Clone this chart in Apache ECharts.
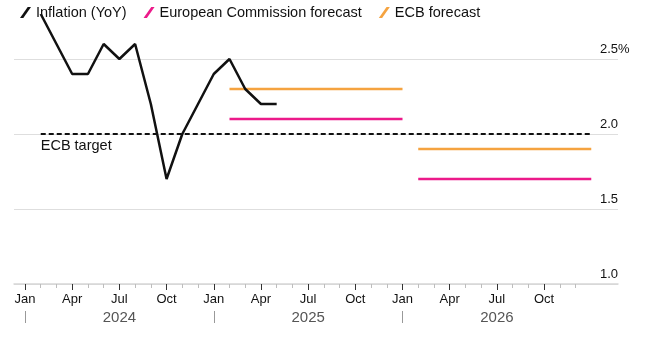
<!DOCTYPE html>
<html>
<head>
<meta charset="utf-8">
<script src="https://cdn.jsdelivr.net/npm/echarts@6/dist/echarts.min.js"></script>
<style>
html,body{margin:0;padding:0;background:#fff;}
#chart{width:653px;height:337px;}
</style>
</head>
<body>
<div id="chart"></div>
<script>
// ---- data ----
const inflationMonths = ['2024-01','2024-02','2024-03','2024-04','2024-05','2024-06','2024-07','2024-08','2024-09','2024-10','2024-11','2024-12','2025-01','2025-02','2025-03','2025-04'];
const inflationValues = [2.8,2.6,2.4,2.4,2.6,2.5,2.6,2.2,1.7,2.0,2.2,2.4,2.5,2.3,2.2,2.2];
const forecastYears = [2025, 2026];
const ecForecast = [2.1, 1.7];
const ecbForecast = [2.3, 1.9];
const targetValue = 2.0;
const targetFrom = '2024-01', targetTo = '2026-12';
const quarterLabels = ['Jan','Apr','Jul','Oct'];
const yearLabels = ['2024','2025','2026'];
const yTicks = [1.0, 1.5, 2.0, 2.5];

const FONT = "'Liberation Sans', Arial, sans-serif";
const BASE_YEAR = 2024;
// month index at end of a given month (0 = start of Jan 2024)
function monthEnd(ym){ const [y,m]=ym.split('-').map(Number); return (y-BASE_YEAR)*12 + (m-1) + 1; }

const inflationData = inflationMonths.map((m,i)=>[monthEnd(m), inflationValues[i]]);
function segs(vals){ return forecastYears.map((y,i)=>[[monthEnd(y+'-01'), vals[i]],[monthEnd(y+'-12'), vals[i]]]); }
const ecSegs = segs(ecForecast), ecbSegs = segs(ecbForecast);

// month categories for the tick axes
const tickMonths = [];
yearLabels.forEach(y=>{ for(let m=1;m<=12;m++) tickMonths.push(y+'-'+String(m).padStart(2,'0')); });

const PINK = '#ec1a8a', ORANGE = '#f5a340', BLACK = '#111111';
const slash = 'path://M0,10 L7,0 L10,0 L3,10 Z';

const series = [
  { name:'Inflation (YoY)', type:'line', xAxisIndex:0, yAxisIndex:0, data: inflationData, symbol:'none',
    lineStyle:{color:BLACK, width:2.5}, itemStyle:{color:BLACK}, z:5 },
  { name:'ECB target', type:'line', xAxisIndex:0, yAxisIndex:0, data: [], symbol:'none', z:4,
    markLine:{ silent:true, symbol:['none','none'], animation:false,
      lineStyle:{color:BLACK, width:2, type:[5,3]},
      label:{show:true, position:'insideStartBottom', formatter:'ECB target', color:BLACK, fontSize:14.5, fontFamily:FONT, distance:[0,4]},
      emphasis:{disabled:true},
      data:[[{coord:[monthEnd(targetFrom), targetValue]},{coord:[monthEnd(targetTo), targetValue]}]] } }
];
ecSegs.forEach(s=>series.push({ name:'European Commission forecast', type:'line', xAxisIndex:0, yAxisIndex:0, data:s, symbol:'none',
  lineStyle:{color:PINK, width:2.5}, itemStyle:{color:PINK}, z:3 }));
ecbSegs.forEach(s=>series.push({ name:'ECB forecast', type:'line', xAxisIndex:0, yAxisIndex:0, data:s, symbol:'none',
  lineStyle:{color:ORANGE, width:2.5}, itemStyle:{color:ORANGE}, z:3 }));

const chart = echarts.init(document.getElementById('chart'), null, {renderer:'canvas'});
chart.setOption({
  animation:false,
  textStyle:{fontFamily:FONT},
  legend:{
    left:15, top:0, itemWidth:11, itemHeight:11, itemGap:17, icon:slash,
    textStyle:{fontSize:14.5, color:BLACK, fontFamily:FONT},
    data:[
      {name:'Inflation (YoY)', itemStyle:{color:BLACK}},
      {name:'European Commission forecast', itemStyle:{color:PINK}},
      {name:'ECB forecast', itemStyle:{color:ORANGE}}
    ]
  },
  grid:[
    {left:14, right:35, top:-16, bottom:53, containLabel:false, outerBoundsMode:'none'},
    {left:25, right:77.45, top:-16, bottom:53, containLabel:false, outerBoundsMode:'none'}
  ],
  xAxis:[
    { type:'value', gridIndex:0, min:-0.7, max:37.7,
      axisLine:{show:true, lineStyle:{color:'#d6d6d6', width:1.5}}, axisTick:{show:false}, axisLabel:{show:false}, splitLine:{show:false} },
    { type:'category', gridIndex:1, data:tickMonths, boundaryGap:false, position:'bottom',
      axisLine:{show:false}, axisTick:{show:true, interval:0, length:4, lineStyle:{color:'#bdbdbd', width:1}},
      axisLabel:{show:false}, splitLine:{show:false} },
    { type:'category', gridIndex:1, data:tickMonths, boundaryGap:false, position:'bottom',
      axisLine:{show:false},
      axisTick:{show:true, interval:(i)=>i%3===0, length:6, lineStyle:{color:'#333', width:1}},
      axisLabel:{show:true, interval:(i)=>i%3===0, margin:9, fontSize:13, color:BLACK, fontFamily:FONT,
        formatter:(v,i)=>quarterLabels[(i%12)/3]},
      splitLine:{show:false} },
    { type:'category', gridIndex:1, data:tickMonths, boundaryGap:false, position:'bottom', offset:27,
      axisLine:{show:false},
      axisTick:{show:true, interval:(i)=>i%12===0, length:12, lineStyle:{color:'#999', width:1}},
      axisLabel:{show:true, interval:(i)=>i%12===6, margin:-1, fontSize:15, color:'#555', fontFamily:FONT,
        formatter:(v,i)=>yearLabels[Math.floor(i/12)]},
      splitLine:{show:false} }
  ],
  yAxis:[
    { type:'value', gridIndex:0, min:1.0, max:3.0, interval:0.5, position:'right',
      axisLine:{show:false}, axisTick:{show:false},
      splitLine:{show:true, lineStyle:{color:'#dedede', width:1}},
      axisLabel:{show:true, inside:true, align:'left', margin:18, verticalAlign:'bottom', padding:[0,0,3,0],
        fontSize:13, color:BLACK, fontFamily:FONT,
        formatter:(v)=> yTicks.includes(v) ? (v===2.5 ? v.toFixed(1)+'%' : v.toFixed(1)) : ''} },
    { type:'value', gridIndex:1, show:false }
  ],
  series: series
});
</script>
</body>
</html>
